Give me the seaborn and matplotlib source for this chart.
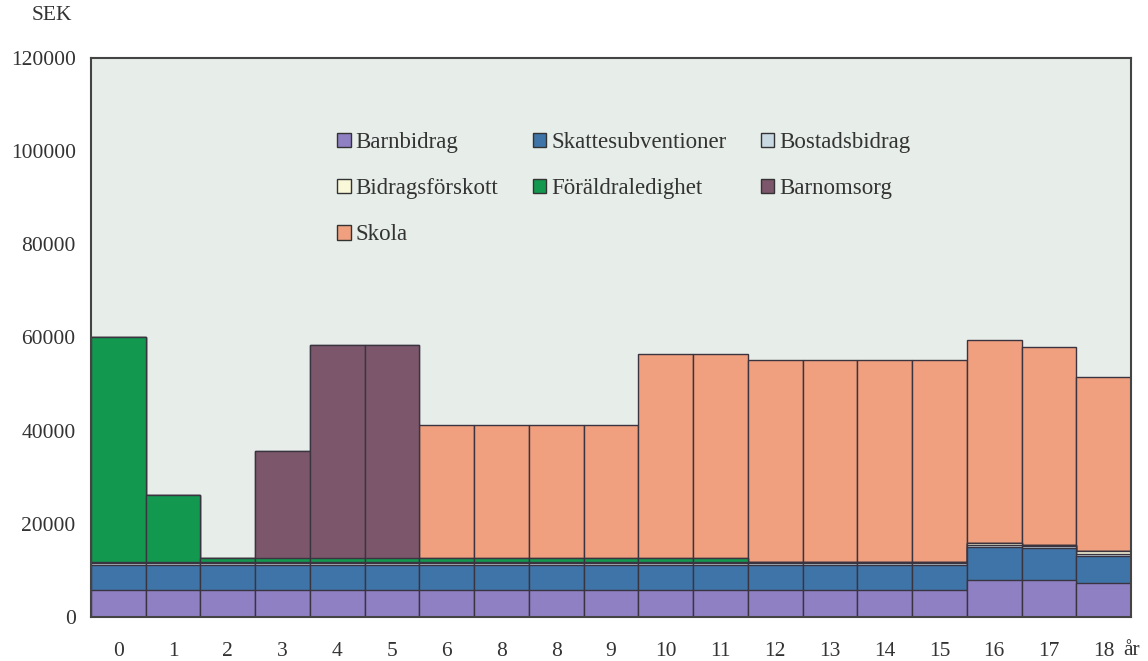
import matplotlib
matplotlib.use("Agg")
import matplotlib.pyplot as plt
from matplotlib.patches import Patch
import numpy as np
import seaborn as sns

# ---- data ----
ages = list(range(19))
tick_labels = ["0", "1", "2", "3", "4", "5", "6", "8", "8", "9", "10", "11",
               "12", "13", "14", "15", "16", "17", "18"]
series_names = ["Barnbidrag", "Skattesubventioner", "Bostadsbidrag",
                "Bidragsförskott", "Föräldraledighet", "Barnomsorg", "Skola"]
barnbidrag = [5800] * 16 + [7900, 7900, 7300]
skattesubventioner = [5400] * 16 + [7100, 6900, 5800]
bostadsbidrag = [400] * 16 + [500, 400, 400]
bidragsforskott = [200] * 16 + [300, 200, 600]
foraldraledighet = [48300, 14400] + [800] * 10 + [0] * 7
barnomsorg = [0, 0, 0, 23000, 45800, 45800] + [0] * 13
skola = [0] * 6 + [28600] * 4 + [43900, 43900] + [43400] * 4 + [43700, 42600, 37400]
colors = ["#8f80c4", "#3f74a8", "#c9d9e2", "#f9f8d9", "#12994f", "#7c576b", "#f0a07f"]

series = [barnbidrag, skattesubventioner, bostadsbidrag, bidragsforskott,
          foraldraledighet, barnomsorg, skola]

sns.set_theme(style="white")
plt.rcParams["font.family"] = ["Liberation Serif", "DejaVu Serif"]

fig = plt.figure(figsize=(11.48, 6.61), dpi=100)
ax = fig.add_axes([91 / 1148, 1 - 617 / 661, 1040 / 1148, 559 / 661])
ax.set_facecolor("#e7ede8")

cum = np.cumsum(np.array(series, dtype=float), axis=0)
edge = "#3a3440"
for i in range(len(series) - 1, -1, -1):
    sns.barplot(x=ages, y=cum[i], color=colors[i], width=1.0, saturation=1,
                edgecolor=edge, linewidth=1.0, ax=ax, errorbar=None)

fs = 15.5
ax.set_xlim(-0.5, 18.5)
ax.set_ylim(0, 120000)
ax.set_yticks(np.arange(0, 120001, 20000))
ax.set_yticklabels([str(v) for v in range(0, 120001, 20000)], fontsize=fs, color="#333333")
ax.set_xticks(ages)
ax.set_xticklabels(tick_labels, fontsize=fs, color="#333333")
ax.tick_params(axis="both", length=0)
ax.tick_params(axis="y", pad=11)
ax.tick_params(axis="x", pad=18)
ax.set_xlabel("")
ax.set_ylabel("")
for s in ax.spines.values():
    s.set_color("#444444")
    s.set_linewidth(1.5)

fig.text(52 / 1148, 1 - 16 / 661, "SEK", fontsize=fs, color="#333333",
         ha="center", va="center")
fig.text(1132 / 1148, 1 - 655 / 661, "år", fontsize=fs, color="#333333",
         ha="center", va="baseline")

handles = [Patch(facecolor=c, edgecolor="#333333", linewidth=1.0) for c in colors]
order = [0, 3, 6, 1, 4, 2, 5]
leg = ax.legend([handles[k] for k in order], [series_names[k] for k in order],
                ncol=3, loc="upper left", bbox_to_anchor=(0.228, 0.884),
                frameon=False, fontsize=16.5, handlelength=0.6, handleheight=0.6,
                handletextpad=0.2, labelspacing=1.1, columnspacing=1.5,
                borderaxespad=0)
for t in leg.get_texts():
    t.set_color("#333333")

fig.savefig("out.png", dpi=100, facecolor="white")
